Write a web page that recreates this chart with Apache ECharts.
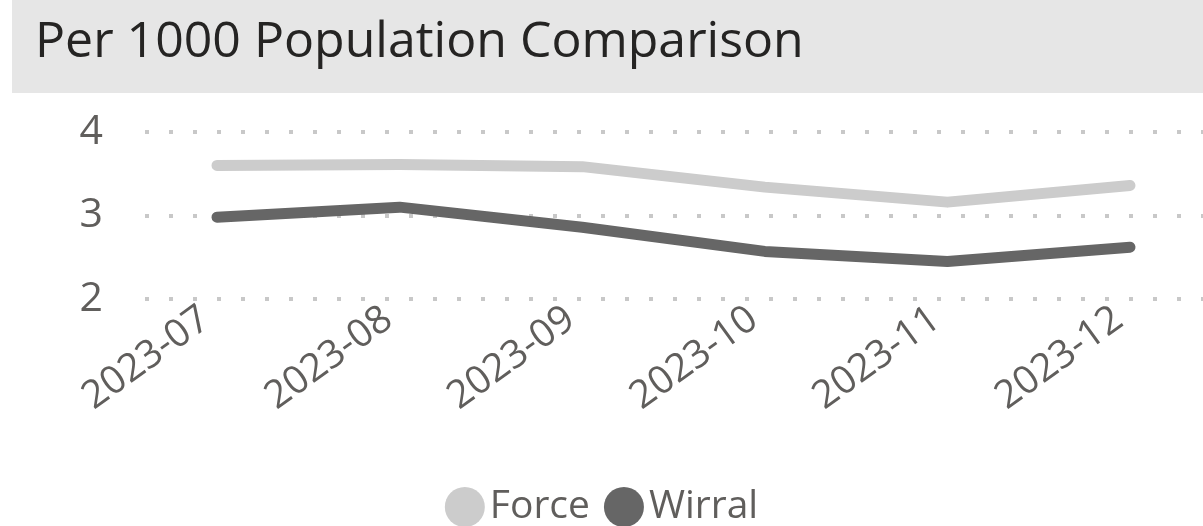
<!DOCTYPE html>
<html>
<head>
<meta charset="utf-8">
<title>Per 1000 Population Comparison</title>
<script src="https://cdn.jsdelivr.net/npm/echarts@6/dist/echarts.min.js"></script>
<style>
  html, body { margin: 0; padding: 0; background: #fff; }
  #main { width: 1203px; height: 526px; }
</style>
</head>
<body>
<div id="main"></div>
<script>
// chart data
var months = ['2023-07', '2023-08', '2023-09', '2023-10', '2023-11', '2023-12'];
var force = [3.60, 3.61, 3.585, 3.34, 3.16, 3.36];
var wirral = [2.98, 3.10, 2.86, 2.57, 2.45, 2.62];
var yTicks = [2, 3, 4];

var font = '"Segoe UI", "Open Sans", "Noto Sans", sans-serif';
var chart = echarts.init(document.getElementById('main'));

var plotTop = 132, plotHeight = 167;

chart.setOption({
  animation: false,
  textStyle: { fontFamily: font },
  graphic: [{
    type: 'rect',
    left: 12, top: 0,
    shape: { width: 1191, height: 93 },
    style: { fill: '#e6e6e6' },
    z: -1
  }],
  title: {
    text: 'Per 1000 Population Comparison',
    left: 30, top: 13,
    textStyle: { fontSize: 50, fontWeight: 'normal', color: '#252423', fontFamily: font }
  },
  legend: {
    bottom: -6,
    left: 'center',
    icon: 'circle',
    itemWidth: 40, itemHeight: 40, itemGap: 14,
    textStyle: { fontSize: 39, color: '#605e5c', padding: [0, 0, 0, 0] },
    data: ['Force', 'Wirral']
  },
  grid: [
    { left: 217, right: 73, top: plotTop, height: plotHeight },
    { left: 145, right: 0, top: plotTop, height: plotHeight }
  ],
  xAxis: [{
    type: 'category',
    gridIndex: 0,
    boundaryGap: false,
    data: months,
    axisLine: { show: false },
    axisTick: { show: false },
    axisLabel: { rotate: 36, fontSize: 39, color: '#605e5c', margin: 8, padding: [0, 14, 0, 0] }
  }, {
    type: 'value',
    gridIndex: 1,
    show: false
  }],
  yAxis: [{
    type: 'value',
    gridIndex: 0,
    min: 2, max: 4,
    show: false
  }, {
    type: 'value',
    gridIndex: 1,
    min: yTicks[0], max: yTicks[yTicks.length - 1], interval: 1,
    axisLine: { show: false },
    axisTick: { show: false },
    axisLabel: { fontSize: 41, color: '#605e5c', margin: 42 },
    splitLine: { lineStyle: { type: [4, 20], width: 4, color: '#c8c8c8' } }
  }],
  series: [{
    name: 'Force',
    type: 'line',
    xAxisIndex: 0, yAxisIndex: 0,
    data: force,
    symbol: 'none',
    lineStyle: { width: 11, color: '#cccccc', cap: 'round', join: 'round' },
    itemStyle: { color: '#cccccc' }
  }, {
    name: 'Wirral',
    type: 'line',
    xAxisIndex: 0, yAxisIndex: 0,
    data: wirral,
    symbol: 'none',
    lineStyle: { width: 11, color: '#666666', cap: 'round', join: 'round' },
    itemStyle: { color: '#666666' }
  }]
});
</script>
</body>
</html>
